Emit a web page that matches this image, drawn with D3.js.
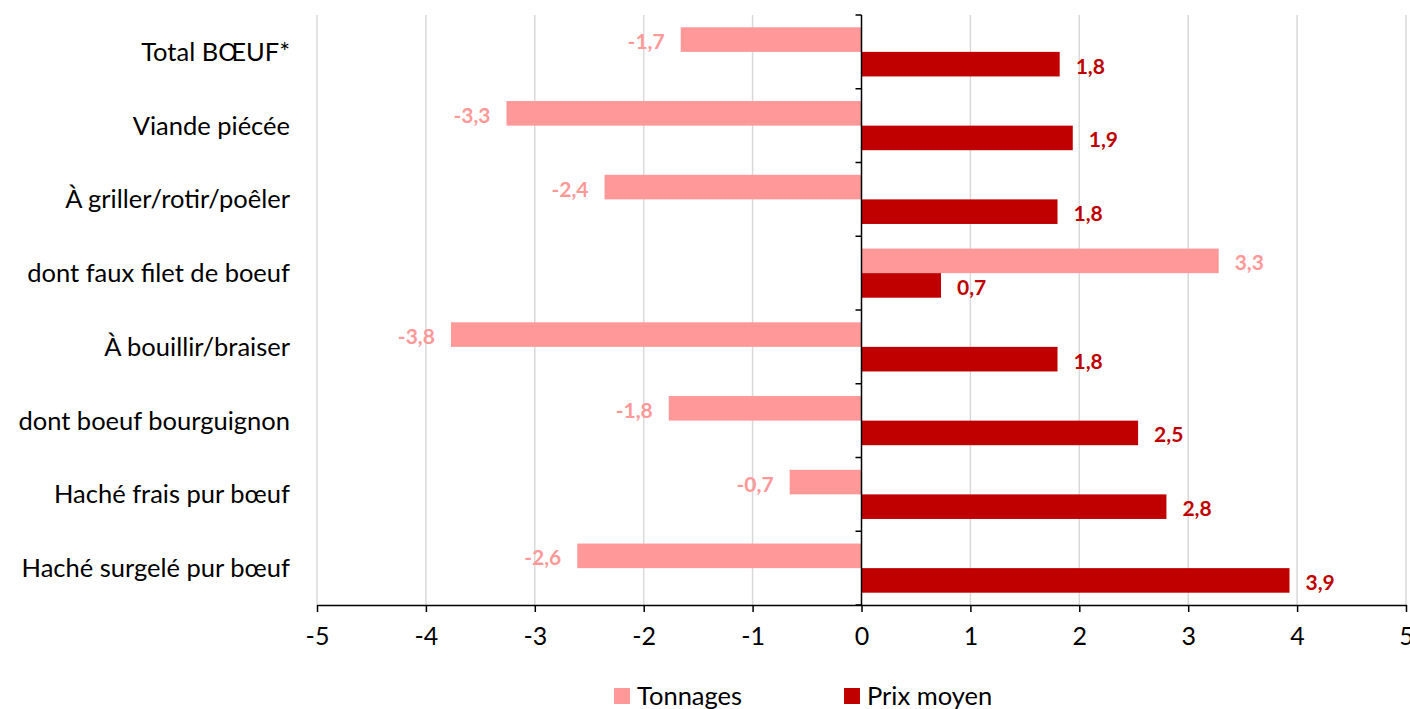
<!DOCTYPE html>
<html>
<head>
<meta charset="utf-8">
<script src="https://cdn.jsdelivr.net/npm/d3@7"></script>
<style>
  html, body { margin: 0; padding: 0; background: #fff; }
  svg { display: block; font-family: Lato, "Open Sans", sans-serif; }
</style>
</head>
<body>
<svg id="chart" width="1410" height="709"></svg>
<script>
// Categories, top to bottom
const categories = [
  "Total BŒUF*",
  "Viande piécée",
  "À griller/rotir/poêler",
  "dont faux filet de boeuf",
  "À bouillir/braiser",
  "dont boeuf bourguignon",
  "Haché frais pur bœuf",
  "Haché surgelé pur bœuf"
];
// Evolution (%) per series
const tonnages = [-1.66, -3.26, -2.36, 3.28, -3.77, -1.77, -0.66, -2.61];
const prixMoyen = [1.82, 1.94, 1.80, 0.73, 1.80, 2.54, 2.80, 3.93];
const seriesNames = ["Tonnages", "Prix moyen"];
const xTicks = [-5, -4, -3, -2, -1, 0, 1, 2, 3, 4, 5];

const colors = { "Tonnages": "#FF9999", "Prix moyen": "#C00000" };

const svg = d3.select("#chart");
const plotLeft = 317, plotRight = 1406, plotTop = 15, plotBottom = 605;

const x = d3.scaleLinear().domain([-5, 5]).range([plotLeft, plotRight]);
const y = d3.scaleBand().domain(categories).range([plotTop, plotBottom]).paddingInner(0).paddingOuter(0);
const barH = y.bandwidth() / 3;
const ySub = d3.scaleBand().domain(seriesNames).range([barH / 2, y.bandwidth() - barH / 2]);

const fmt = v => d3.format(".1f")(v).replace(".", ",").replace("−", "-");

// Vertical gridlines
svg.append("g")
  .selectAll("line")
  .data(xTicks.filter(t => t !== 0))
  .join("line")
  .attr("x1", d => x(d)).attr("x2", d => x(d))
  .attr("y1", plotTop).attr("y2", plotBottom)
  .attr("stroke", "#D9D9D9").attr("stroke-width", 1.5);

// Bars
const rows = categories.map((c, i) => ({ cat: c, values: [
  { s: "Tonnages", v: tonnages[i] },
  { s: "Prix moyen", v: prixMoyen[i] }
]}));

const g = svg.append("g");
const rowG = g.selectAll("g.row").data(rows).join("g")
  .attr("class", "row")
  .attr("transform", d => `translate(0,${y(d.cat)})`);

rowG.selectAll("rect").data(d => d.values).join("rect")
  .attr("x", d => x(Math.min(0, d.v)))
  .attr("width", d => Math.abs(x(d.v) - x(0)))
  .attr("y", d => ySub(d.s))
  .attr("height", ySub.bandwidth())
  .attr("fill", d => colors[d.s]);

// Value labels
rowG.selectAll("text.val").data(d => d.values).join("text")
  .attr("class", "val")
  .attr("x", d => d.v < 0 ? x(d.v) - 16 : x(d.v) + 16)
  .attr("y", d => ySub(d.s) + ySub.bandwidth() / 2 + 1)
  .attr("text-anchor", d => d.v < 0 ? "end" : "start")
  .attr("dominant-baseline", "central")
  .attr("font-size", 21)
  .attr("font-weight", "bold")
  .attr("fill", d => colors[d.s])
  .text(d => fmt(d.v));

// Bottom axis
const xAxis = svg.append("g")
  .attr("transform", `translate(0,${plotBottom})`)
  .call(d3.axisBottom(x).tickValues(xTicks).tickSize(7).tickSizeOuter(0).tickFormat(d => d3.format("d")(d).replace("−", "-")));
xAxis.select(".domain").attr("stroke", "#000").attr("stroke-width", 1.5);
xAxis.selectAll(".tick line").attr("stroke", "#000").attr("stroke-width", 1.5);
xAxis.selectAll(".tick text")
  .attr("font-size", 25).attr("fill", "#000")
  .attr("font-family", "Lato, 'Open Sans', sans-serif")
  .attr("dy", "1.2em");

// Vertical zero axis with category ticks
const boundaries = d3.range(categories.length + 1).map(i => plotTop + i * y.step());
const zAxis = svg.append("g");
zAxis.append("line")
  .attr("x1", x(0)).attr("x2", x(0))
  .attr("y1", plotTop).attr("y2", plotBottom)
  .attr("stroke", "#000").attr("stroke-width", 1.5);
zAxis.selectAll("line.tk").data(boundaries).join("line")
  .attr("class", "tk")
  .attr("x1", x(0) - 6).attr("x2", x(0))
  .attr("y1", d => d).attr("y2", d => d)
  .attr("stroke", "#000").attr("stroke-width", 1.5);

// Category labels
svg.append("g").selectAll("text").data(categories).join("text")
  .attr("x", 290)
  .attr("y", d => y(d) + y.bandwidth() / 2 - 1)
  .attr("text-anchor", "end")
  .attr("dominant-baseline", "central")
  .attr("font-size", 25.5)
  .attr("fill", "#000")
  .text(d => d);

// Legend
const legend = svg.append("g");
const legX = [614, 844];
seriesNames.forEach((s, i) => {
  legend.append("rect")
    .attr("x", legX[i]).attr("y", 688)
    .attr("width", 16).attr("height", 16)
    .attr("fill", colors[s]);
  legend.append("text")
    .attr("x", legX[i] + 23).attr("y", 695)
    .attr("dominant-baseline", "central")
    .attr("font-size", 25.5)
    .attr("fill", "#000")
    .text(s);
});
</script>
</body>
</html>
